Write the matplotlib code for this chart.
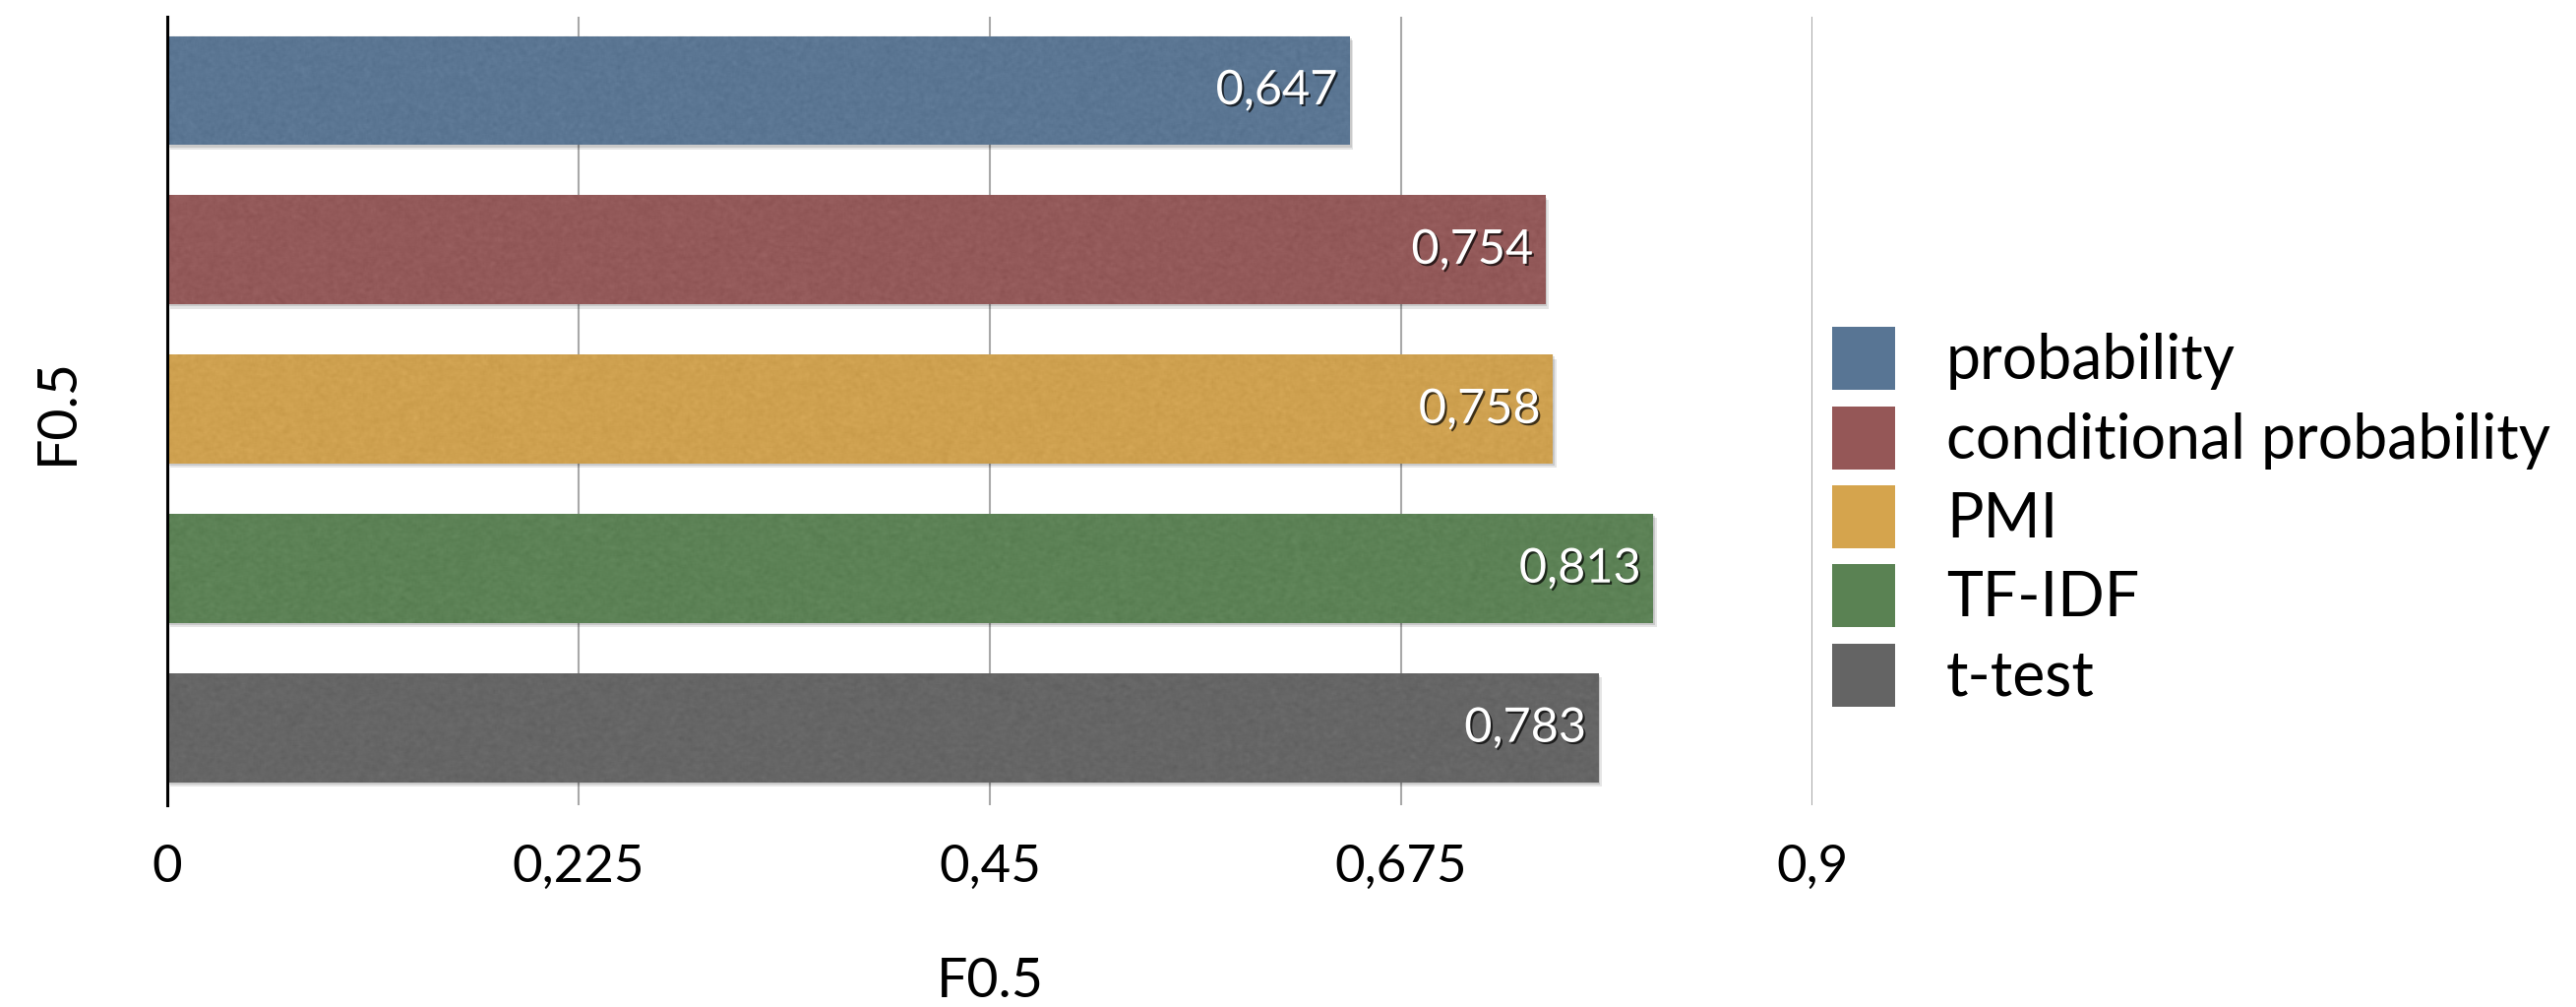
import numpy as np
import matplotlib
matplotlib.use("Agg")
import matplotlib.pyplot as plt
from matplotlib import patheffects as pe
from matplotlib.patches import Patch
from matplotlib.ticker import FixedLocator, FuncFormatter

# Data
methods = ["probability", "conditional probability", "PMI", "TF-IDF", "t-test"]
f05 = [0.647, 0.754, 0.758, 0.813, 0.783]
value_labels = ["0,647", "0,754", "0,758", "0,813", "0,783"]
x_ticks = [0, 0.225, 0.45, 0.675, 0.9]
axis_title = "F0.5"

colors = ["#587594", "#955757", "#d5a44d", "#5a8253", "#646464"]

plt.rcParams["font.family"] = ["Lato", "DejaVu Sans"]

W, H = 2618, 1023
fig = plt.figure(figsize=(W / 100, H / 100), dpi=100)
left, right, top, bottom = 170, 1842, 17, 818
ax = fig.add_axes([left / W, 1 - bottom / H, (right - left) / W, (bottom - top) / H])

ypos = np.arange(len(methods))
bar_h = 0.685
shadow = [pe.SimplePatchShadow(offset=(2.5, -3), shadow_rgbFace="k", alpha=0.10),
          pe.SimplePatchShadow(offset=(1.2, -1.5), shadow_rgbFace="k", alpha=0.12),
          pe.Normal()]
bars = ax.barh(ypos, f05, height=bar_h, color=colors, zorder=2)
for b in bars:
    b.set_path_effects(shadow)

# paper-like grain on each bar
rng = np.random.default_rng(7)
for b in bars:
    n = rng.normal(size=(90, 900))
    k = np.ones(3) / 3
    n = np.apply_along_axis(lambda r: np.convolve(r, k, mode="same"), 1, n)
    n = np.apply_along_axis(lambda c: np.convolve(c, k, mode="same"), 0, n)
    x0, y0 = b.get_x(), b.get_y()
    ax.imshow(n, cmap="gray", alpha=0.07, aspect="auto", interpolation="bilinear",
              extent=(x0, x0 + b.get_width(), y0 + b.get_height(), y0), zorder=2.5)

for y, v, lab in zip(ypos, f05, value_labels):
    ax.annotate(lab, xy=(v, y), xytext=(-9, 0), textcoords="offset points",
                ha="right", va="center", color="white", fontsize=35, zorder=4,
                path_effects=[pe.withSimplePatchShadow(offset=(1.5, -1.5),
                                                       shadow_rgbFace="k", alpha=0.7)])

ax.set_xlim(0, 0.9)
ax.set_ylim(4.484, -0.463)
ax.xaxis.set_major_locator(FixedLocator(x_ticks))
ax.xaxis.set_major_formatter(FuncFormatter(lambda v, p: f"{v:g}".replace(".", ",")))
ax.set_yticks([])
ax.tick_params(axis="x", length=0, pad=29, labelsize=38)
ax.grid(axis="x", color="#a8a8a8", linewidth=1.5, zorder=0)
ax.set_axisbelow(True)
for s in ["top", "right", "bottom"]:
    ax.spines[s].set_visible(False)
ax.spines["left"].set_color("black")
ax.spines["left"].set_linewidth(2.2)
ax.spines["left"].set_zorder(3)

ax.set_xlabel(axis_title, fontsize=40, va="center")
ax.xaxis.set_label_coords(0.5, -0.2247)
ax.set_ylabel(axis_title, fontsize=40, va="center", ha="center")
ax.yaxis.set_label_coords(-0.067, 0.5)

handles = [Patch(facecolor=c, edgecolor="none") for c in colors]
fig.legend(handles, methods, loc="center left", bbox_to_anchor=(1862 / W, 1 - 525 / H),
           frameon=False, fontsize=45, borderpad=0, borderaxespad=0,
           handlelength=1.024, handleheight=1.2, handletextpad=0.83, labelspacing=0.26)

fig.savefig("out.png", dpi=100)
